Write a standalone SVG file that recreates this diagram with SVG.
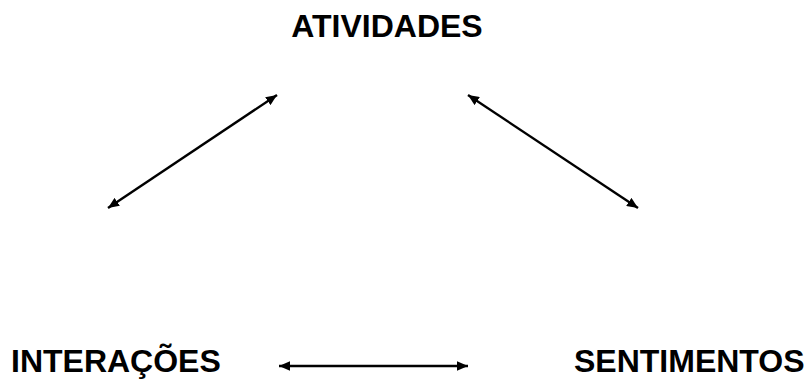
<svg xmlns="http://www.w3.org/2000/svg" width="807" height="381" viewBox="0 0 807 381">
<style>
.lbl{font-family:"Liberation Sans",Arial,sans-serif;font-weight:bold;font-size:32px;fill:#000}
.con{stroke:#000;stroke-width:2.4;fill:none;marker-start:url(#ah);marker-end:url(#ah)}
</style>
<defs>
<marker id="ah" viewBox="0 0 10 10" refX="10" refY="5" markerWidth="4.6" markerHeight="4" markerUnits="strokeWidth" orient="auto-start-reverse" preserveAspectRatio="none">
<path d="M0,0 L10,5 L0,10 z" fill="#000"/>
</marker>
</defs>
<rect width="807" height="381" fill="#fff"/>
<g id="atividades"><text class="lbl" x="387" y="37" text-anchor="middle">ATIVIDADES</text></g>
<g id="interacoes"><text class="lbl" x="11" y="372">INTERAÇÕES</text></g>
<g id="sentimentos"><text class="lbl" x="574" y="372">SENTIMENTOS</text></g>
<g id="connectors">
<line class="con" x1="108" y1="208" x2="277" y2="95"/>
<line class="con" x1="468" y1="95" x2="638" y2="208"/>
<line class="con" x1="279" y1="366" x2="468" y2="366"/>
</g>
</svg>
